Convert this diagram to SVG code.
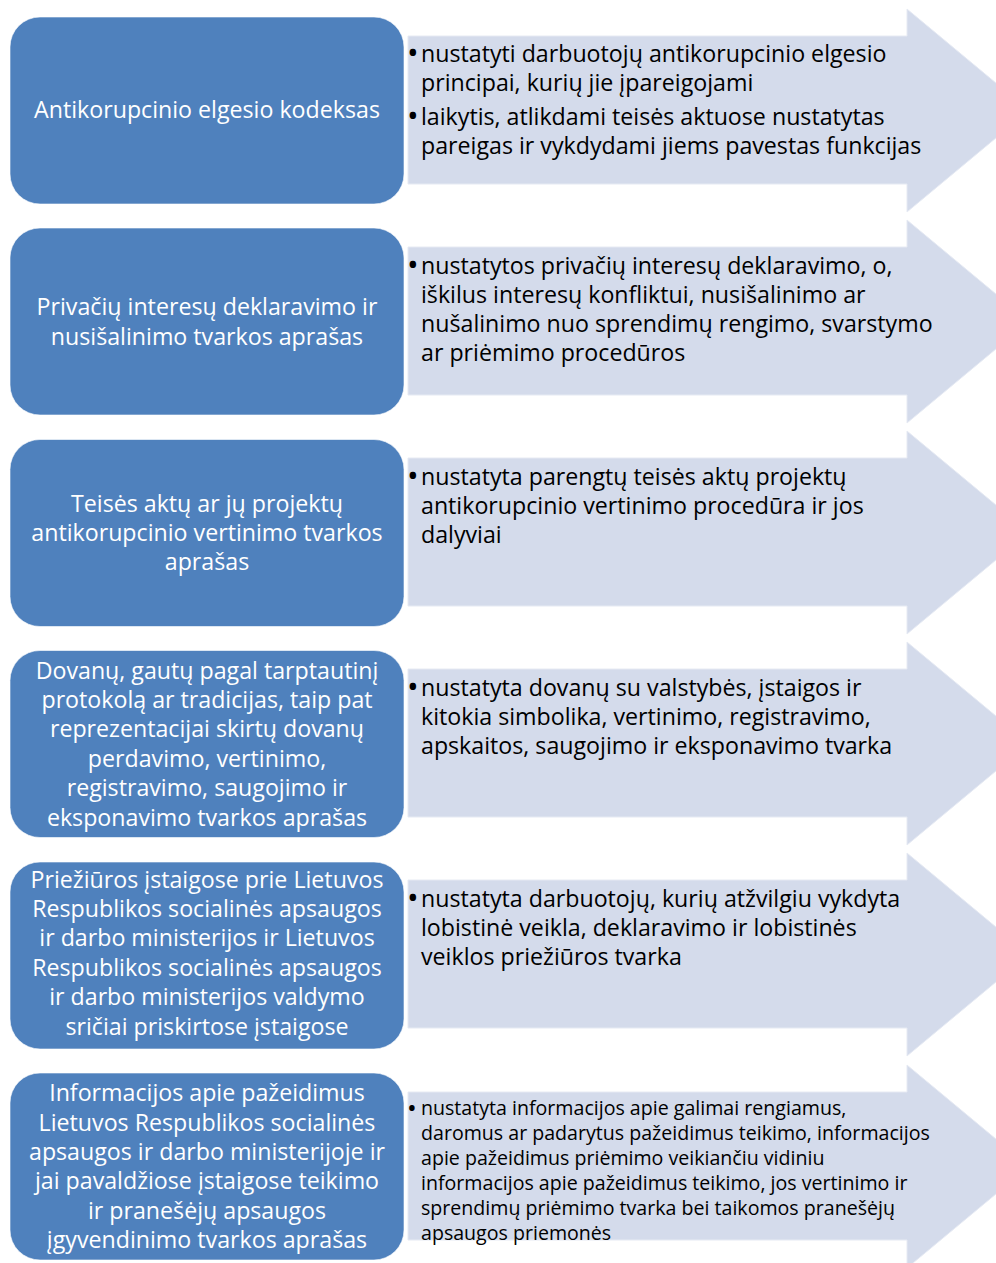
<svg xmlns="http://www.w3.org/2000/svg" width="996" height="1263" viewBox="0 0 996 1263">
<style>
.box{fill:#4F81BD;stroke:#ffffff;stroke-opacity:0.6;stroke-width:1}
.arr{fill:#D4DBEB;stroke:#E6EAF3;stroke-width:1}
.bt{font-family:"Open Sans","Noto Sans",sans-serif;font-size:23.2px;fill:#ffffff;text-anchor:middle}
.at{font-family:"Open Sans","Noto Sans",sans-serif;font-size:23.2px;fill:#000000}
.as{font-family:"Open Sans","Noto Sans",sans-serif;font-size:19.6px;fill:#000000}
.bu{font-family:"Open Sans","Noto Sans",sans-serif;font-size:31px;fill:#000000}
.bs{font-family:"Open Sans","Noto Sans",sans-serif;font-size:26px;fill:#000000}
</style>
<rect width="996" height="1263" fill="#ffffff"/>
<g id="row1">
<path class="arr" d="M408 36 H907 V9 L1029 110.5 L907 212 V184 H408 Z"/>
<rect class="box" x="10" y="17" width="394" height="187" rx="30"/>
<text class="bt" x="207" y="118">Antikorupcinio elgesio kodeksas</text>
<text class="bu" x="407" y="64">•</text>
<text class="at" x="421" y="62">nustatyti darbuotojų antikorupcinio elgesio</text>
<text class="at" x="421" y="91">principai, kurių jie įpareigojami</text>
<text class="bu" x="407" y="127">•</text>
<text class="at" x="421" y="125">laikytis, atlikdami teisės aktuose nustatytas</text>
<text class="at" x="421" y="154">pareigas ir vykdydami jiems pavestas funkcijas</text>
</g>
<g id="row2">
<path class="arr" d="M408 247 H907 V220 L1029 321.5 L907 423 V395 H408 Z"/>
<rect class="box" x="10" y="228" width="394" height="187" rx="30"/>
<text class="bt" x="207" y="315">Privačių interesų deklaravimo ir</text>
<text class="bt" x="207" y="345">nusišalinimo tvarkos aprašas</text>
<text class="bu" x="407" y="276">•</text>
<text class="at" x="421" y="274">nustatytos privačių interesų deklaravimo, o,</text>
<text class="at" x="421" y="303">iškilus interesų konfliktui, nusišalinimo ar</text>
<text class="at" x="421" y="332">nušalinimo nuo sprendimų rengimo, svarstymo</text>
<text class="at" x="421" y="361">ar priėmimo procedūros</text>
</g>
<g id="row3">
<path class="arr" d="M408 458 H907 V431 L1029 532.5 L907 634 V606 H408 Z"/>
<rect class="box" x="10" y="439.5" width="394" height="187" rx="30"/>
<text class="bt" x="207" y="512">Teisės aktų ar jų projektų</text>
<text class="bt" x="207" y="541">antikorupcinio vertinimo tvarkos</text>
<text class="bt" x="207" y="570">aprašas</text>
<text class="bu" x="407" y="487">•</text>
<text class="at" x="421" y="485">nustatyta parengtų teisės aktų projektų</text>
<text class="at" x="421" y="514">antikorupcinio vertinimo procedūra ir jos</text>
<text class="at" x="421" y="543">dalyviai</text>
</g>
<g id="row4">
<path class="arr" d="M408 669 H907 V642 L1029 743.5 L907 845 V817 H408 Z"/>
<rect class="box" x="10" y="650.5" width="394" height="187" rx="30"/>
<text class="bt" x="207" y="679">Dovanų, gautų pagal tarptautinį</text>
<text class="bt" x="207" y="708">protokolą ar tradicijas, taip pat</text>
<text class="bt" x="207" y="737">reprezentacijai skirtų dovanų</text>
<text class="bt" x="207" y="767">perdavimo, vertinimo,</text>
<text class="bt" x="207" y="796">registravimo, saugojimo ir</text>
<text class="bt" x="207" y="826">eksponavimo tvarkos aprašas</text>
<text class="bu" x="407" y="698">•</text>
<text class="at" x="421" y="696">nustatyta dovanų su valstybės, įstaigos ir</text>
<text class="at" x="421" y="725">kitokia simbolika, vertinimo, registravimo,</text>
<text class="at" x="421" y="754">apskaitos, saugojimo ir eksponavimo tvarka</text>
</g>
<g id="row5">
<path class="arr" d="M408 880 H907 V853 L1029 954.5 L907 1056 V1028 H408 Z"/>
<rect class="box" x="10" y="862" width="394" height="187" rx="30"/>
<text class="bt" x="207" y="888">Priežiūros įstaigose prie Lietuvos</text>
<text class="bt" x="207" y="917">Respublikos socialinės apsaugos</text>
<text class="bt" x="207" y="946">ir darbo ministerijos ir Lietuvos</text>
<text class="bt" x="207" y="976">Respublikos socialinės apsaugos</text>
<text class="bt" x="207" y="1005">ir darbo ministerijos valdymo</text>
<text class="bt" x="207" y="1035">sričiai priskirtose įstaigose</text>
<text class="bu" x="407" y="909">•</text>
<text class="at" x="421" y="907">nustatyta darbuotojų, kurių atžvilgiu vykdyta</text>
<text class="at" x="421" y="936">lobistinė veikla, deklaravimo ir lobistinės</text>
<text class="at" x="421" y="965">veiklos priežiūros tvarka</text>
</g>
<g id="row6">
<path class="arr" d="M408 1092 H907 V1065 L1029 1166.5 L907 1268 V1240 H408 Z"/>
<rect class="box" x="10" y="1073" width="394" height="187" rx="30"/>
<text class="bt" x="207" y="1101">Informacijos apie pažeidimus</text>
<text class="bt" x="207" y="1131">Lietuvos Respublikos socialinės</text>
<text class="bt" x="207" y="1160">apsaugos ir darbo ministerijoje ir</text>
<text class="bt" x="207" y="1189">jai pavaldžiose įstaigose teikimo</text>
<text class="bt" x="207" y="1219">ir pranešėjų apsaugos</text>
<text class="bt" x="207" y="1248">įgyvendinimo tvarkos aprašas</text>
<text class="bs" x="407" y="1117">•</text>
<text class="as" x="421" y="1115">nustatyta informacijos apie galimai rengiamus,</text>
<text class="as" x="421" y="1140">daromus ar padarytus pažeidimus teikimo, informacijos</text>
<text class="as" x="421" y="1165">apie pažeidimus priėmimo veikiančiu vidiniu</text>
<text class="as" x="421" y="1190">informacijos apie pažeidimus teikimo, jos vertinimo ir</text>
<text class="as" x="421" y="1215">sprendimų priėmimo tvarka bei taikomos pranešėjų</text>
<text class="as" x="421" y="1240">apsaugos priemonės</text>
</g>
<g id="connectors"></g>
</svg>
